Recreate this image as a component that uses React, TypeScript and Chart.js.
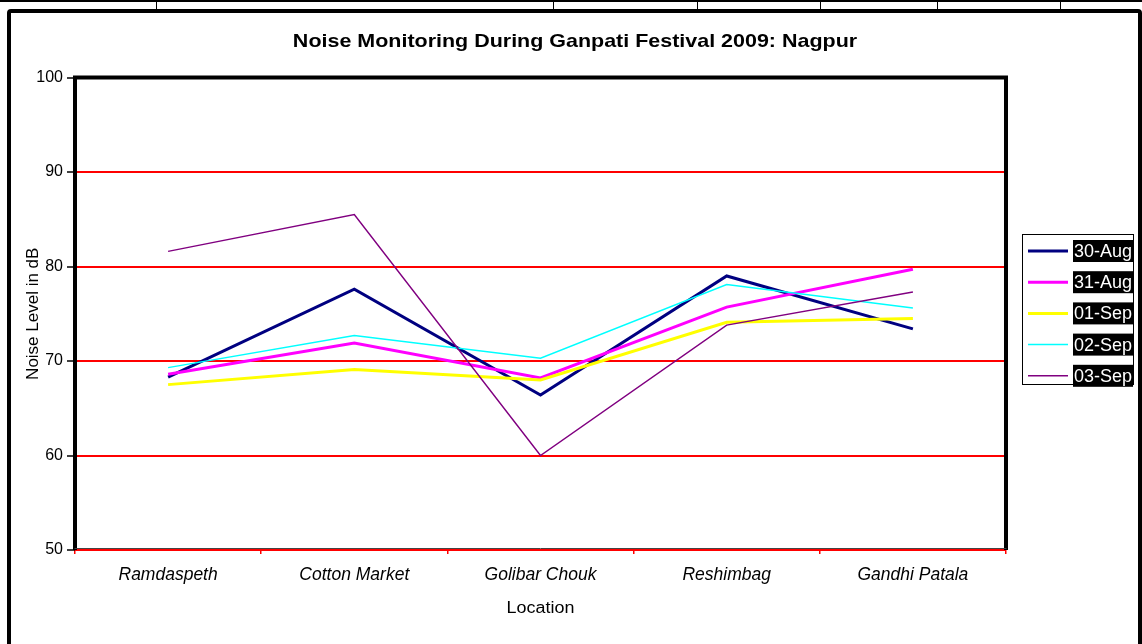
import React, { useEffect, useRef } from 'react';
import { Chart, registerables } from 'chart.js';

Chart.register(...registerables);

const chartTitle = 'Noise Monitoring During Ganpati Festival 2009: Nagpur';
const xAxisTitle = 'Location';
const yAxisTitle = 'Noise Level in dB';

const categories = ['Ramdaspeth', 'Cotton Market', 'Golibar Chouk', 'Reshimbag', 'Gandhi Patala'];
const seriesNames = ['30-Aug', '31-Aug', '01-Sep', '02-Sep', '03-Sep'];
const aug30 = [68.3, 77.6, 66.4, 79.0, 73.4];
const aug31 = [68.6, 71.9, 68.2, 75.7, 79.7];
const sep01 = [67.5, 69.1, 68.0, 74.1, 74.5];
const sep02 = [69.3, 72.7, 70.3, 78.1, 75.6];
const sep03 = [81.6, 85.5, 60.0, 73.8, 77.3];
const seriesValues = [aug30, aug31, sep01, sep02, sep03];
const yMin = 50;
const yMax = 100;
const yStep = 10;

const seriesColors = ['#000080', '#FF00FF', '#FFFF00', '#00FFFF', '#800080'];
const seriesWidths = [3, 3, 3, 1.5, 1.5];

const FONT = '"Liberation Sans", Arial, Helvetica, sans-serif';

function stretchedText(ctx: CanvasRenderingContext2D, text: string, x: number, y: number, sx: number, align: CanvasTextAlign) {
  ctx.save();
  ctx.translate(x, y);
  ctx.scale(sx, 1);
  ctx.textAlign = align;
  ctx.fillText(text, 0, 0);
  ctx.restore();
}

const decorPlugin = {
  id: 'decor',
  afterDatasetsDraw(chart: any) {
    const { ctx, chartArea: a } = chart;
    ctx.save();
    // plot area border
    ctx.strokeStyle = '#000';
    ctx.lineWidth = 4;
    ctx.lineCap = 'square';
    ctx.lineJoin = 'miter';
    ctx.beginPath();
    ctx.moveTo(a.left, a.bottom - 2);
    ctx.lineTo(a.left, a.top);
    ctx.lineTo(a.right, a.top);
    ctx.lineTo(a.right, a.bottom - 2);
    ctx.stroke();
    ctx.lineWidth = 1;
    ctx.strokeStyle = '#444';
    ctx.beginPath();
    ctx.moveTo(a.left, a.bottom - 1.5);
    ctx.lineTo(a.right, a.bottom - 1.5);
    ctx.stroke();

    // title
    ctx.fillStyle = '#000';
    ctx.font = `bold 19px ${FONT}`;
    ctx.textBaseline = 'alphabetic';
    stretchedText(ctx, chartTitle, 575, 47, 1.13, 'center');

    // axis titles
    ctx.font = `16px ${FONT}`;
    ctx.textBaseline = 'middle';
    stretchedText(ctx, xAxisTitle, (a.left + a.right) / 2, 609, 1.12, 'center');
    ctx.save();
    ctx.translate(38, (a.top + a.bottom) / 2);
    ctx.rotate(-Math.PI / 2);
    ctx.textAlign = 'center';
    ctx.textBaseline = 'alphabetic';
    ctx.font = `17px ${FONT}`;
    ctx.fillText(yAxisTitle, 0, 0);
    ctx.restore();

    // legend
    const lx = 1022.5, ly = 234.5, lw = 111, lh = 150;
    ctx.fillStyle = '#fff';
    ctx.fillRect(lx, ly, lw, lh);
    ctx.strokeStyle = '#000';
    ctx.lineWidth = 1;
    ctx.strokeRect(lx, ly, lw, lh);
    ctx.font = `18px ${FONT}`;
    ctx.textBaseline = 'middle';
    ctx.textAlign = 'left';
    seriesNames.forEach((name, i) => {
      const cy = 251 + i * 31.2;
      ctx.strokeStyle = seriesColors[i];
      ctx.lineWidth = seriesWidths[i];
      ctx.lineCap = 'butt';
      ctx.beginPath();
      ctx.moveTo(1028, cy);
      ctx.lineTo(1068, cy);
      ctx.stroke();
      const w = ctx.measureText(name).width;
      ctx.fillStyle = '#000';
      ctx.fillRect(1073, cy - 11, w + 2, 22);
      ctx.fillStyle = '#fff';
      ctx.fillText(name, 1074, cy + 1);
    });
    ctx.restore();
  },
};

export default function App() {
  const canvasRef = useRef<HTMLCanvasElement | null>(null);

  useEffect(() => {
    const canvas = canvasRef.current;
    if (!canvas) return;
    const chart = new Chart(canvas, {
      type: 'line',
      data: {
        labels: categories,
        datasets: seriesNames.map((name, i) => ({
          label: name,
          data: seriesValues[i],
          borderColor: seriesColors[i],
          backgroundColor: seriesColors[i],
          borderWidth: seriesWidths[i],
          pointRadius: 0,
          tension: 0,
          fill: false,
          order: seriesNames.length - i,
        })),
      },
      options: {
        animation: false,
        responsive: false,
        events: [],
        layout: { padding: { left: 0, top: 77.5, right: 136, bottom: 54 } },
        plugins: {
          legend: { display: false },
          title: { display: false },
          tooltip: { enabled: false },
        },
        scales: {
          x: {
            type: 'category',
            offset: true,
            border: { display: false },
            grid: {
              offset: true,
              drawOnChartArea: false,
              drawTicks: true,
              tickLength: 4,
              tickColor: '#ff0000',
              color: '#ff0000',
              lineWidth: 1.5,
            },
            ticks: {
              font: { family: FONT, size: 17.5, style: 'italic' },
              color: '#000',
              padding: 11,
              maxRotation: 0,
              autoSkip: false,
            },
            afterFit: (scale: any) => {
              scale.height = 40;
            },
          },
          y: {
            min: yMin,
            max: yMax,
            border: { display: false },
            grid: {
              color: '#ff0000',
              lineWidth: 2,
              drawTicks: true,
              tickLength: 8,
              tickColor: '#000',
              tickWidth: 1.5,
            },
            ticks: {
              stepSize: yStep,
              font: { family: FONT, size: 16 },
              color: '#000',
              padding: 4,
            },
            afterFit: (scale: any) => {
              scale.width = 75;
            },
          },
        },
      },
      plugins: [decorPlugin],
    } as any);
    return () => chart.destroy();
  }, []);

  const marks = [156, 553, 697, 820, 937, 1060];

  return (
    <div style={{ position: 'absolute', left: 0, top: 0, width: 1142, height: 644, overflow: 'hidden', background: '#fff' }}>
      <div style={{ position: 'absolute', left: 0, top: 0, width: 1142, height: 2, background: '#000' }} />
      {marks.map((m) => (
        <div key={m} style={{ position: 'absolute', left: m, top: 0, width: 1, height: 9, background: '#000' }} />
      ))}
      <div
        style={{
          position: 'absolute',
          left: 7,
          top: 9,
          width: 1135,
          height: 700,
          border: '4px solid #000',
          borderRadius: 4,
          boxSizing: 'border-box',
        }}
      />
      <canvas ref={canvasRef} width={1142} height={644} style={{ position: 'absolute', left: 0, top: 0, width: 1142, height: 644 }} />
    </div>
  );
}
